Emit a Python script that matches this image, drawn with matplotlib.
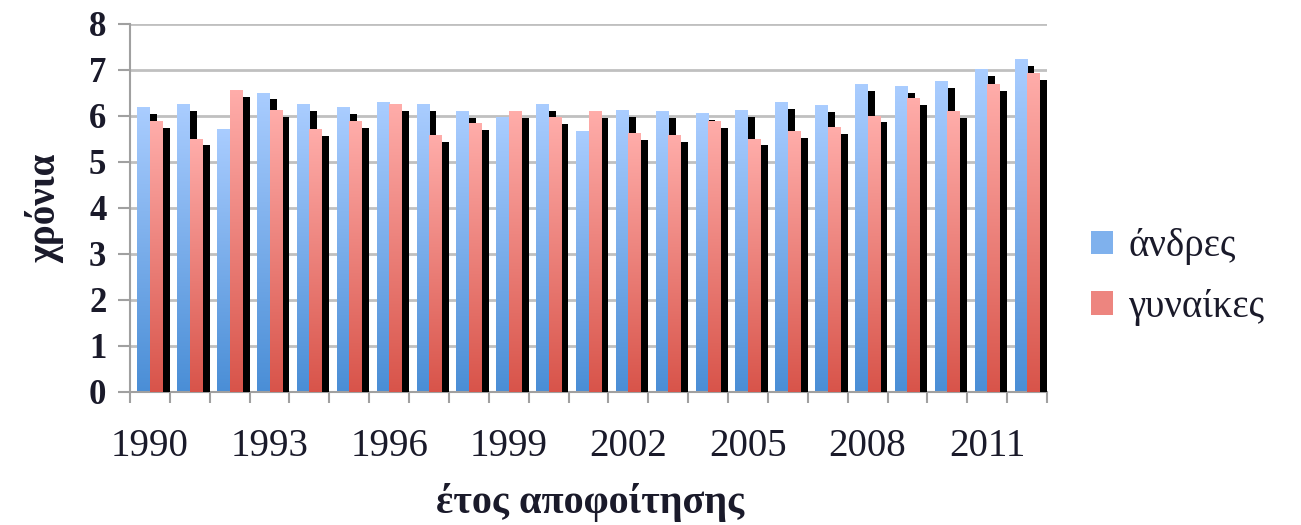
import numpy as np
import matplotlib
matplotlib.use('Agg')
import matplotlib.pyplot as plt
from matplotlib.colors import LinearSegmentedColormap
from matplotlib.patches import Patch
import matplotlib.patheffects as pe

years = list(range(1990, 2013))
men = [6.19, 6.27, 5.72, 6.51, 6.27, 6.19, 6.31, 6.27, 6.10, 5.98, 6.27, 5.68,
       6.14, 6.10, 6.06, 6.14, 6.31, 6.23, 6.69, 6.65, 6.77, 7.02, 7.23]
women = [5.90, 5.51, 6.56, 6.14, 5.72, 5.90, 6.27, 5.59, 5.85, 6.10, 5.97, 6.10,
         5.64, 5.59, 5.90, 5.51, 5.68, 5.77, 6.01, 6.40, 6.10, 6.69, 6.94]
labels = ['άνδρες', 'γυναίκες']
yticks = list(range(0, 9))

plt.rcParams['font.family'] = ['Liberation Serif', 'DejaVu Serif']
txt = '#1a1a2a'

fig = plt.figure(figsize=(13.01, 5.25), dpi=100)
ax = fig.add_axes([130/1301, 133/525, 917/1301, 368/525])

x = np.arange(len(years))
w = 0.313
cm_blue = LinearSegmentedColormap.from_list('b', ['#4A8ED6', '#AACDFF'])
cm_pink = LinearSegmentedColormap.from_list('p', ['#D8544A', '#FFADAA'])
grad = np.linspace(0, 1, 256).reshape(-1, 1)

shadow = [pe.SimplePatchShadow(offset=(5.3, -5), shadow_rgbFace='black', alpha=1.0), pe.Normal()]

for vals, off, cmap, z in [(men, -w/2, cm_blue, 2), (women, w/2, cm_pink, 3)]:
    bars = ax.bar(x + off, vals, w, color=cmap(0.5), linewidth=0, zorder=z)
    for b in bars:
        b.set_path_effects(shadow)
        x0 = b.get_x(); wd = b.get_width(); h = b.get_height()
        im = ax.imshow(grad, cmap=cmap, extent=[x0, x0 + wd, 0, h], origin='lower',
                       aspect='auto', zorder=z + 0.5, interpolation='bilinear')
        im.set_clip_path(b)

ax.set_xlim(-0.5, len(years) - 0.5)
ax.set_ylim(0, 8)
ax.set_yticks(yticks)
ax.yaxis.grid(True, color='#C0C0C0', linewidth=2)
ax.set_axisbelow(True)
for s in ['top', 'right']:
    ax.spines[s].set_visible(False)
for s in ['left', 'bottom']:
    ax.spines[s].set_color('#A0A0A0')
    ax.spines[s].set_linewidth(1.5)

ax.set_xticks(np.arange(-0.5, len(years), 1))
ax.set_xticklabels([])
ax.tick_params(axis='x', which='major', length=8, width=1.5, color='#A0A0A0', direction='out')
ax.set_xticks(x[::3], minor=True)
ax.set_xticklabels([str(y) for y in years[::3]], minor=True)
ax.tick_params(axis='x', which='minor', length=0, pad=26, labelsize=28, labelcolor=txt)
ax.tick_params(axis='y', length=9, width=1.5, color='#A0A0A0', pad=8, labelsize=25, labelcolor=txt)
for t in ax.get_yticklabels():
    t.set_fontweight('bold')

fig.text(45/1301, 1 - 208/525, 'χρόνια', rotation=90, ha='center', va='center',
         fontsize=28, fontweight='bold', color=txt)
fig.text(590/1301, 1 - 503/525, 'έτος αποφοίτησης', ha='center', va='center',
         fontsize=29, fontweight='bold', color=txt)

handles = [Patch(facecolor=cm_blue(0.55), edgecolor='none'),
           Patch(facecolor=cm_pink(0.55), edgecolor='none')]
fig.legend(handles, labels, loc='center left', bbox_to_anchor=(1068/1301, 1 - 277/525),
           frameon=False, fontsize=28, handlelength=0.55, handleheight=0.55,
           handletextpad=0.4, labelspacing=0.6, labelcolor=txt, borderaxespad=0.2)

fig.savefig('out.png', dpi=100)
